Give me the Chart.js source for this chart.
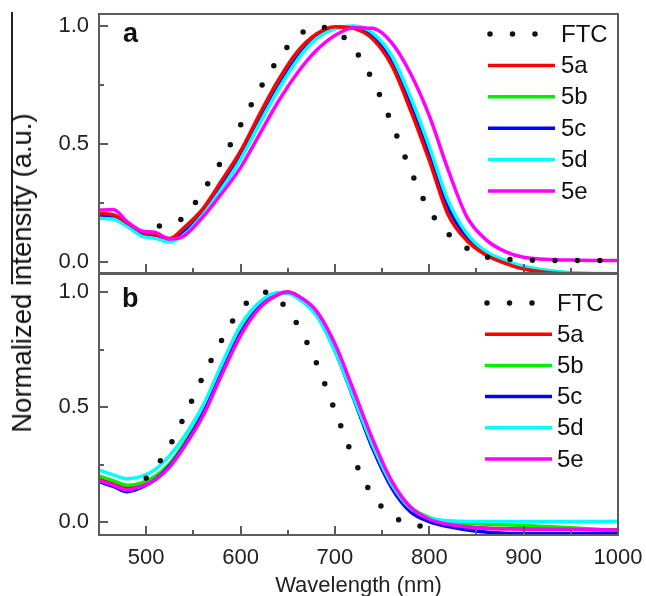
<!DOCTYPE html>
<html>
<head>
<meta charset="utf-8">
<script src="https://cdn.jsdelivr.net/npm/chart.js@4.4.0/dist/chart.umd.min.js"></script>
<style>
  body { margin: 0; background: #fff; overflow: hidden; }
  #wrap { position: relative; width: 646px; height: 596px; }
  #topChart { position: absolute; left: 0; top: 0; }
  #botChart { position: absolute; left: 0; top: 273px; }
  #ytitle {
    position: absolute; left: 22px; top: 273px;
    transform: translate(-50%, -50%) rotate(-90deg);
    white-space: nowrap; line-height: 1;
    font: 27.5px Arial, "Liberation Sans", sans-serif; color: #111;
  }
  #edge { position: absolute; left: 11px; top: 12px; width: 2px; height: 272px; background: #222; }
</style>
</head>
<body>
<div id="wrap">
  <div id="edge"></div>
  <canvas id="topChart" width="646" height="274"></canvas>
  <canvas id="botChart" width="646" height="323"></canvas>
  <div id="ytitle">Normalized intensity (a.u.)</div>
</div>
<script>
// series names and colours
const seriesNames = ["FTC", "5a", "5b", "5c", "5d", "5e"];
const seriesColors = ["#111111", "#ff0000", "#00ee00", "#0000ff", "#00ffff", "#ff00ff"];

// axis ticks
const xMajorTicks = [500, 600, 700, 800, 900, 1000];
const xMinorTicks = [550, 650, 750, 850, 950];
const yMajorTicks = [0, 0.5, 1.0];
const yMinorTicks = [0.25, 0.75];

// panel a (wavelength in nm, normalized intensity)
const ftcTopX = [514, 525, 540, 560, 580, 600, 620, 640, 660, 680, 700, 720, 740, 760, 780, 800, 820, 840, 860, 880, 900, 950, 1000];
const ftcTopY = [0.153, 0.165, 0.19, 0.30, 0.43, 0.58, 0.73, 0.86, 0.955, 0.995, 0.98, 0.905, 0.77, 0.59, 0.39, 0.22, 0.12, 0.058, 0.022, 0.012, 0.008, 0.006, 0.006];
const topX = [450, 465, 480, 495, 510, 525, 540, 560, 580, 600, 620, 640, 660, 680, 700, 720, 740, 760, 780, 800, 820, 840, 860, 880, 900, 950, 1000];
const top5a = [0.205, 0.2, 0.165, 0.128, 0.115, 0.1, 0.145, 0.225, 0.345, 0.47, 0.625, 0.77, 0.89, 0.965, 0.997, 0.99, 0.945, 0.835, 0.645, 0.43, 0.2, 0.09, 0.03, -0.005, -0.03, -0.05, -0.05];
const top5b = [0.195, 0.195, 0.16, 0.12, 0.108, 0.095, 0.13, 0.21, 0.33, 0.455, 0.605, 0.75, 0.875, 0.955, 0.993, 0.995, 0.955, 0.85, 0.665, 0.45, 0.215, 0.097, 0.033, -0.002, -0.027, -0.05, -0.05];
const top5c = [0.195, 0.19, 0.156, 0.118, 0.105, 0.093, 0.125, 0.205, 0.32, 0.445, 0.595, 0.74, 0.865, 0.95, 0.99, 0.998, 0.96, 0.86, 0.68, 0.465, 0.235, 0.105, 0.038, 0.0, -0.025, -0.048, -0.05];
const top5d = [0.185, 0.182, 0.15, 0.11, 0.1, 0.085, 0.115, 0.2, 0.31, 0.435, 0.585, 0.73, 0.855, 0.945, 0.988, 1.0, 0.97, 0.875, 0.7, 0.49, 0.26, 0.12, 0.045, 0.008, -0.018, -0.045, -0.05];
const top5e = [0.22, 0.222, 0.17, 0.132, 0.125, 0.097, 0.11, 0.19, 0.29, 0.4, 0.54, 0.68, 0.8, 0.895, 0.96, 0.993, 0.99, 0.93, 0.8, 0.62, 0.39, 0.19, 0.095, 0.045, 0.02, 0.008, 0.006];

// panel b
const ftcBotX = [500, 520, 540, 560, 580, 600, 620, 630, 640, 660, 680, 700, 720, 740, 760, 780, 800];
const ftcBotY = [0.19, 0.296, 0.455, 0.63, 0.79, 0.925, 0.99, 1.0, 0.97, 0.86, 0.695, 0.485, 0.275, 0.115, 0.03, -0.01, -0.02];
const botX = [450, 465, 480, 495, 510, 525, 540, 560, 580, 600, 620, 640, 650, 660, 680, 700, 720, 740, 760, 780, 800, 820, 850, 900, 950, 1000];
const bot5a = [0.19, 0.17, 0.148, 0.16, 0.19, 0.245, 0.33, 0.465, 0.645, 0.815, 0.932, 0.99, 1.0, 0.985, 0.915, 0.765, 0.56, 0.35, 0.17, 0.06, 0.01, -0.012, -0.025, -0.03, -0.032, -0.035];
const bot5b = [0.2, 0.18, 0.16, 0.17, 0.2, 0.255, 0.34, 0.48, 0.66, 0.83, 0.94, 0.995, 0.998, 0.98, 0.905, 0.75, 0.545, 0.34, 0.17, 0.065, 0.02, 0.0, -0.008, -0.015, -0.025, -0.038];
const bot5c = [0.175, 0.155, 0.132, 0.15, 0.185, 0.245, 0.33, 0.47, 0.65, 0.82, 0.935, 0.992, 0.998, 0.978, 0.905, 0.745, 0.535, 0.32, 0.15, 0.045, 0.002, -0.02, -0.04, -0.05, -0.05, -0.05];
const bot5d = [0.226, 0.205, 0.188, 0.198, 0.23, 0.29, 0.37, 0.505, 0.685, 0.855, 0.955, 0.998, 0.995, 0.975, 0.9, 0.745, 0.54, 0.335, 0.165, 0.06, 0.018, 0.005, 0.002, 0.002, 0.002, 0.003];
const bot5e = [0.18, 0.16, 0.14, 0.155, 0.185, 0.24, 0.325, 0.46, 0.64, 0.81, 0.93, 0.99, 1.0, 0.985, 0.92, 0.775, 0.57, 0.36, 0.18, 0.065, 0.012, -0.01, -0.025, -0.03, -0.032, -0.035];

const FONT = "Arial, 'Liberation Sans', sans-serif";

function toPoints(xs, ys) {
    return xs.map((x, i) => ({ x: x, y: ys[i] }));
}

function make_datasets(ftcX, ftcY, xs, series, drawOrder) {
    const sets = [{
        label: seriesNames[0],
        data: toPoints(ftcX, ftcY),
        borderColor: seriesColors[0],
        borderWidth: 5.5,
        borderDash: [0, 22.5],
        borderCapStyle: "round",
        order: 0
    }];
    series.forEach((ys, i) => {
        sets.push({
            label: seriesNames[i + 1],
            data: toPoints(xs, ys),
            borderColor: seriesColors[i + 1],
            borderWidth: 3.5,
            order: drawOrder[i]
        });
    });
    return sets;
}

// frame, inward ticks, panel letter and legend
const panelPlugin = {
    id: "panel",
    afterDraw(chart, args, opts) {
        const { ctx, chartArea: a, scales } = chart;
        const x = scales.x, y = scales.y;
        ctx.save();
        ctx.strokeStyle = "#5c5c5c";
        ctx.lineWidth = 2;
        ctx.beginPath();
        xMajorTicks.concat(xMinorTicks).forEach(v => {
            const px = Math.round(x.getPixelForValue(v));
            const len = xMajorTicks.includes(v) ? 9 : 5;
            ctx.moveTo(px, a.bottom);
            ctx.lineTo(px, a.bottom - len);
        });
        yMajorTicks.concat(yMinorTicks).forEach(v => {
            const py = Math.round(y.getPixelForValue(v));
            const len = yMajorTicks.includes(v) ? 9 : 5;
            ctx.moveTo(a.left, py);
            ctx.lineTo(a.left + len, py);
        });
        ctx.stroke();
        ctx.strokeRect(a.left, a.top, a.right - a.left, a.bottom - a.top);

        ctx.fillStyle = "#111";
        ctx.font = "bold 27px " + FONT;
        ctx.textBaseline = "alphabetic";
        ctx.fillText(opts.letter, opts.letterX, opts.letterY);

        ctx.font = "24px " + FONT;
        ctx.textBaseline = "middle";
        seriesNames.forEach((name, i) => {
            const ly = opts.legendY + i * opts.legendStep;
            ctx.beginPath();
            ctx.strokeStyle = seriesColors[i];
            if (i === 0) {
                ctx.lineWidth = 5.5;
                ctx.lineCap = "round";
                ctx.setLineDash([0, 22.5]);
                ctx.moveTo(opts.legendX0 + 2, ly);
                ctx.lineTo(opts.legendX0 + 50, ly);
            } else {
                ctx.lineWidth = 3.5;
                ctx.lineCap = "butt";
                ctx.setLineDash([]);
                ctx.moveTo(opts.legendX0, ly);
                ctx.lineTo(opts.legendX1, ly);
            }
            ctx.stroke();
            ctx.setLineDash([]);
            ctx.fillText(name, opts.textX, ly + 1);
        });
        ctx.restore();
    }
};

function y_axis(min, max) {
    return {
        type: "linear",
        min: min,
        max: max,
        afterFit: s => { s.width = 99; s.paddingTop = 0; s.paddingBottom = 0; },
        afterBuildTicks: s => { s.ticks = yMajorTicks.map(v => ({ value: v })); },
        ticks: {
            padding: 10,
            color: "#222",
            font: { size: 22, family: FONT },
            callback: v => v.toFixed(1)
        },
        grid: { display: false, drawTicks: false },
        border: { display: false }
    };
}

function plot_panel(canvasId, datasets, xAxis, yAxis, padding, panelOpts) {
    return new Chart(document.getElementById(canvasId), {
        type: "line",
        data: { datasets: datasets },
        options: {
            responsive: false,
            animation: false,
            devicePixelRatio: 1,
            layout: { padding: padding },
            elements: {
                point: { radius: 0 },
                line: { cubicInterpolationMode: "monotone", fill: false }
            },
            scales: { x: xAxis, y: yAxis },
            plugins: {
                legend: { display: false },
                tooltip: { enabled: false },
                panel: panelOpts
            }
        },
        plugins: [panelPlugin]
    });
}

plot_panel("topChart",
    make_datasets(ftcTopX, ftcTopY, topX, [top5a, top5b, top5c, top5d, top5e], [2, 5, 4, 3, 1]),
    { type: "linear", min: 450, max: 1000, display: false },
    y_axis(-0.0466, 1.0508),
    { left: 0, right: 28, top: 14, bottom: 1 },
    { letter: "a", letterX: 123, letterY: 42, legendY: 34, legendStep: 31.4, legendX0: 488, legendX1: 555, textX: 561 }
);

plot_panel("botChart",
    make_datasets(ftcBotX, ftcBotY, botX, [bot5a, bot5b, bot5c, bot5d, bot5e], [5, 4, 3, 2, 1]),
    {
        type: "linear", min: 450, max: 1000,
        afterFit: s => { s.height = 61; s.paddingLeft = 0; s.paddingRight = 0; },
        afterBuildTicks: s => { s.ticks = xMajorTicks.map(v => ({ value: v })); },
        ticks: { padding: 10, color: "#222", maxRotation: 0, autoSkip: false, font: { size: 22, family: FONT }, callback: v => String(v) },
        grid: { display: false, drawTicks: false },
        border: { display: false },
        title: { display: true, text: "Wavelength (nm)", color: "#222", padding: 0, font: { size: 22, family: FONT, lineHeight: 0.9 } }
    },
    y_axis(-0.0565, 1.0783),
    { left: 0, right: 28, top: 1, bottom: 0 },
    { letter: "b", letterX: 122, letterY: 34, legendY: 30, legendStep: 31.2, legendX0: 485, legendX1: 552, textX: 557 }
);
</script>
</body>
</html>
